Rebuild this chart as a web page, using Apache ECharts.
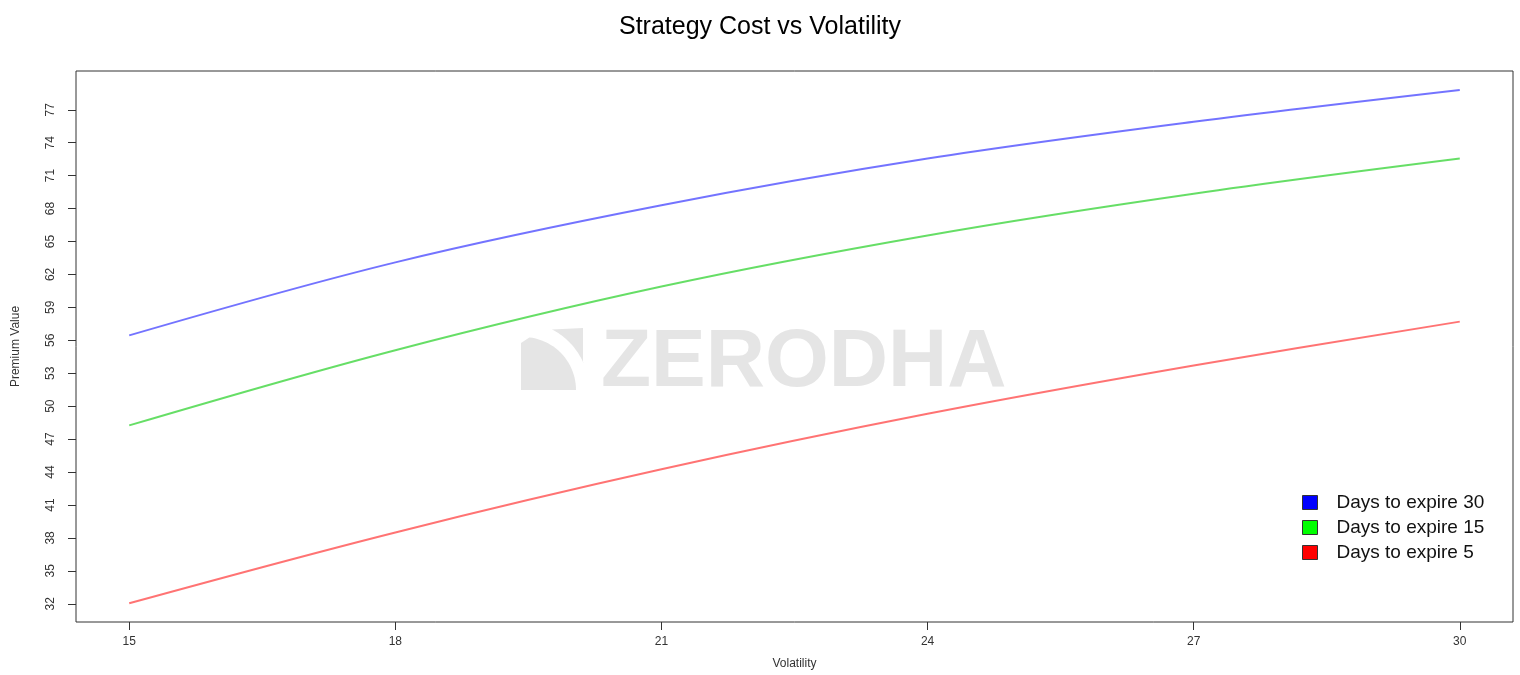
<!DOCTYPE html>
<html>
<head>
<meta charset="utf-8">
<title>Strategy Cost vs Volatility</title>
<script src="https://cdn.jsdelivr.net/npm/echarts@6/dist/echarts.min.js"></script>
<style>
  html, body { margin: 0; padding: 0; background: #fff; }
  #chart { width: 1520px; height: 675px; }
</style>
</head>
<body>
<div id="chart"></div>
<script>
// data
var volatility = [15, 18, 21, 24, 27, 30]
var days30 = [56.45, 63.1, 68.3, 72.55, 75.9, 78.8]
var days15 = [48.25, 55.1, 60.9, 65.55, 69.35, 72.55]
var days5 = [32.05, 38.5, 44.25, 49.3, 53.7, 57.7]
var seriesNames = ['Days to expire 30', 'Days to expire 15', 'Days to expire 5']
var xTicks = [15, 18, 21, 24, 27, 30]
var yTicks = [32, 35, 38, 41, 44, 47, 50, 53, 56, 59, 62, 65, 68, 71, 74, 77]

var FONT = '"Liberation Sans", Arial, sans-serif'
var keyColors = ['#0000ff', '#00ff00', '#ff0000']
var lineColors = ['rgba(0,0,255,0.55)', 'rgba(0,200,0,0.6)', 'rgba(255,0,0,0.55)']

function pairs (ys) {
  return volatility.map(function (x, i) { return [x, ys[i]] })
}

// watermark logo: two pieces cut by an arc around (cx, cy)
function arcPoints (cx, cy, r, a0, a1) {
  var pts = []
  for (var k = 0; k <= 24; k++) {
    var a = a0 + (a1 - a0) * k / 24
    pts.push([cx + r * Math.cos(a), cy - r * Math.sin(a)])
  }
  return pts
}
var logoCx = 521, logoCy = 390
var logoLeft = [[logoCx, logoCy], [logoCx, 343]].concat(arcPoints(logoCx + 2, logoCy, 53, Math.PI / 2 - 0.12, 0))
var logoRight = [[583, 328], [583, 363]].concat(arcPoints(logoCx, logoCy, 68, 0.41, 1.1))

var chart = echarts.init(document.getElementById('chart'))

chart.setOption({
  backgroundColor: '#fff',
  animation: false,
  title: {
    text: 'Strategy Cost vs Volatility',
    left: 'center',
    top: 10,
    textStyle: { fontFamily: FONT, fontSize: 25, fontWeight: 'normal', color: '#000' }
  },
  grid: {
    left: 76,
    right: 7,
    top: 71,
    bottom: 50,
    show: true,
    borderColor: '#333',
    borderWidth: 1,
    backgroundColor: 'transparent'
  },
  graphic: [
    {
      type: 'polygon',
      z: 0,
      shape: { points: logoLeft },
      style: { fill: '#e5e5e5' }
    },
    {
      type: 'polygon',
      z: 0,
      shape: { points: logoRight },
      style: { fill: '#e5e5e5' }
    },
    {
      type: 'text',
      z: 0,
      left: 601,
      top: 322,
      style: {
        text: 'ZERODHA',
        fill: '#e5e5e5',
        font: 'bold 82px ' + FONT
      }
    }
  ],
  legend: {
    orient: 'vertical',
    left: 1297,
    top: 488,
    icon: 'rect',
    itemWidth: 15,
    itemHeight: 14,
    itemGap: 6,
    textStyle: { fontFamily: FONT, fontSize: 19, color: '#111', padding: [0, 0, 0, 14] },
    data: seriesNames.map(function (n, i) {
      return { name: n, itemStyle: { color: keyColors[i], borderColor: '#333', borderWidth: 1 } }
    })
  },
  xAxis: {
    type: 'value',
    min: 14.4,
    max: 30.6,
    name: 'Volatility',
    nameLocation: 'middle',
    nameGap: 36,
    nameTextStyle: { fontFamily: FONT, fontSize: 12, color: '#333' },
    axisLine: { show: false },
    axisTick: { show: true, length: 8, lineStyle: { color: '#333' }, customValues: xTicks },
    axisLabel: { fontFamily: FONT, fontSize: 12, color: '#333', margin: 14, customValues: xTicks },
    splitLine: { show: false }
  },
  yAxis: {
    type: 'value',
    min: 30.34,
    max: 80.53,
    name: 'Premium Value',
    nameLocation: 'middle',
    nameGap: 54,
    nameTextStyle: { fontFamily: FONT, fontSize: 12, color: '#333' },
    axisLine: { show: false },
    axisTick: { show: true, length: 8, lineStyle: { color: '#333' }, customValues: yTicks },
    axisLabel: { fontFamily: FONT, fontSize: 12, color: '#333', rotate: 90, margin: 19, customValues: yTicks },
    splitLine: { show: false }
  },
  series: [days30, days15, days5].map(function (ys, i) {
    return {
      name: seriesNames[i],
      type: 'line',
      data: pairs(ys),
      smooth: 0.35,
      showSymbol: false,
      z: 3,
      lineStyle: { color: lineColors[i], width: 2 },
      itemStyle: { color: keyColors[i] }
    }
  })
})
</script>
</body>
</html>
